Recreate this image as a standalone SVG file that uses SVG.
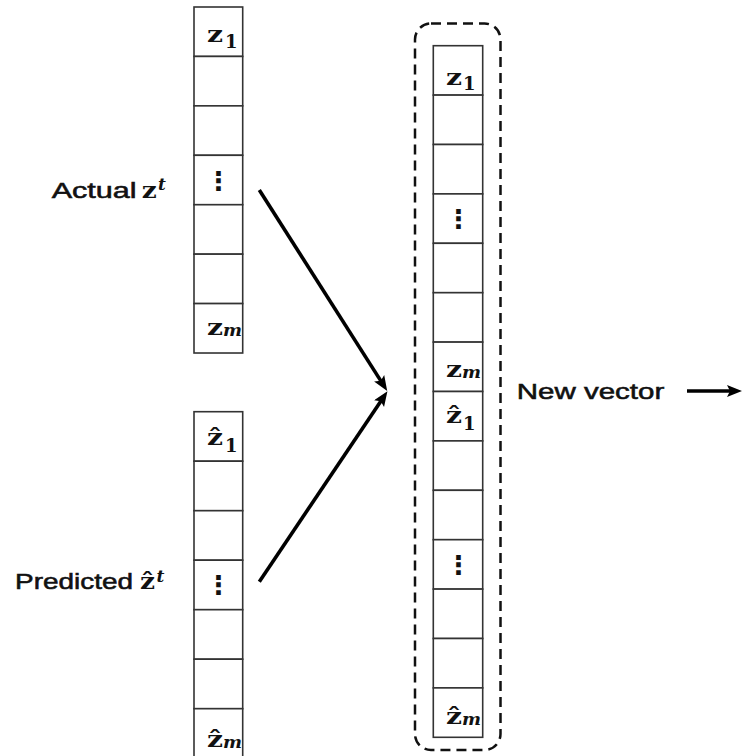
<svg xmlns="http://www.w3.org/2000/svg" width="743" height="756" viewBox="0 0 743 756">
  <style>
    .cell { fill: #ffffff; stroke: #333333; stroke-width: 1.6; }
    .label { font-family: "Liberation Sans", Arial, sans-serif; font-size: 22.5px; fill: #111111; stroke: #111111; stroke-width: 0.55; }
    .mz { font-family: "DejaVu Serif", "Liberation Serif", serif; font-weight: bold; font-size: 23px; fill: #111111; }
    .sub1 { font-family: "DejaVu Serif", "Liberation Serif", serif; font-weight: bold; font-size: 18px; fill: #111111; }
    .subm { font-family: "DejaVu Serif", "Liberation Serif", serif; font-weight: bold; font-style: italic; font-size: 17px; fill: #111111; }
    .sup { font-family: "DejaVu Serif", "Liberation Serif", serif; font-weight: bold; font-style: italic; font-size: 17px; fill: #111111; }
    .dots { font-family: "DejaVu Sans", sans-serif; font-weight: bold; font-size: 26px; fill: #111111; text-anchor: middle; }
    .conn { stroke: #000000; stroke-width: 3.6; fill: none; }
    .group-box { fill: none; stroke: #111111; stroke-width: 2.5; stroke-dasharray: 10 6; }
  </style>
  <defs>
    <marker id="head" markerUnits="userSpaceOnUse" markerWidth="16" markerHeight="14" refX="4" refY="6" orient="auto">
      <path d="M0,0 L15,6 L0,12 L3,6 Z" fill="#000000"/>
    </marker>
  </defs>

  <rect width="743" height="756" fill="#ffffff"/>

  <!-- actual vector z^t -->
  <g id="actual-vector">
    <rect class="cell" x="194" y="7" width="48.7" height="49.43"/>
    <rect class="cell" x="194" y="56.43" width="48.7" height="49.43"/>
    <rect class="cell" x="194" y="105.86" width="48.7" height="49.43"/>
    <rect class="cell" x="194" y="155.29" width="48.7" height="49.43"/>
    <rect class="cell" x="194" y="204.72" width="48.7" height="49.43"/>
    <rect class="cell" x="194" y="254.15" width="48.7" height="49.43"/>
    <rect class="cell" x="194" y="303.58" width="48.7" height="49.43"/>
    <text class="mz" x="207" y="41.7" textLength="16" lengthAdjust="spacingAndGlyphs">z</text>
    <text class="sub1" x="225" y="48">1</text>
    <text class="dots" x="218.3" y="190">⋮</text>
    <text class="mz" x="207" y="335" textLength="16" lengthAdjust="spacingAndGlyphs">z</text>
    <text class="subm" x="223" y="336" textLength="19" lengthAdjust="spacingAndGlyphs">m</text>
  </g>

  <!-- predicted vector ẑ^t -->
  <g id="predicted-vector">
    <rect class="cell" x="194" y="411.7" width="48.7" height="49.5"/>
    <rect class="cell" x="194" y="461.2" width="48.7" height="49.5"/>
    <rect class="cell" x="194" y="510.7" width="48.7" height="49.5"/>
    <rect class="cell" x="194" y="560.2" width="48.7" height="49.5"/>
    <rect class="cell" x="194" y="609.7" width="48.7" height="49.5"/>
    <rect class="cell" x="194" y="659.2" width="48.7" height="49.5"/>
    <rect class="cell" x="194" y="708.7" width="48.7" height="49.5"/>
    <text class="mz" x="207" y="445" textLength="16" lengthAdjust="spacingAndGlyphs">ẑ</text>
    <text class="sub1" x="225" y="451.5">1</text>
    <text class="dots" x="218.3" y="594">⋮</text>
    <text class="mz" x="207" y="746.5" textLength="16" lengthAdjust="spacingAndGlyphs">ẑ</text>
    <text class="subm" x="223" y="747.5" textLength="19" lengthAdjust="spacingAndGlyphs">m</text>
  </g>

  <!-- concatenated vector -->
  <g id="new-vector">
    <rect class="group-box" x="415" y="23.5" width="85.5" height="726.5" rx="16" ry="16"/>
    <rect class="cell" x="433.3" y="45.7" width="49.4" height="49.4"/>
    <rect class="cell" x="433.3" y="95.1" width="49.4" height="49.4"/>
    <rect class="cell" x="433.3" y="144.5" width="49.4" height="49.4"/>
    <rect class="cell" x="433.3" y="193.9" width="49.4" height="49.4"/>
    <rect class="cell" x="433.3" y="243.3" width="49.4" height="49.4"/>
    <rect class="cell" x="433.3" y="292.7" width="49.4" height="49.4"/>
    <rect class="cell" x="433.3" y="342.1" width="49.4" height="49.4"/>
    <rect class="cell" x="433.3" y="391.5" width="49.4" height="49.4"/>
    <rect class="cell" x="433.3" y="440.9" width="49.4" height="49.4"/>
    <rect class="cell" x="433.3" y="490.3" width="49.4" height="49.4"/>
    <rect class="cell" x="433.3" y="539.7" width="49.4" height="49.4"/>
    <rect class="cell" x="433.3" y="589.1" width="49.4" height="49.4"/>
    <rect class="cell" x="433.3" y="638.5" width="49.4" height="49.4"/>
    <rect class="cell" x="433.3" y="687.9" width="49.4" height="49.4"/>
    <text class="mz" x="446" y="84.5" textLength="16" lengthAdjust="spacingAndGlyphs">z</text>
    <text class="sub1" x="463" y="90">1</text>
    <text class="dots" x="458.3" y="228">⋮</text>
    <text class="mz" x="446" y="377" textLength="16" lengthAdjust="spacingAndGlyphs">z</text>
    <text class="subm" x="462" y="378" textLength="19" lengthAdjust="spacingAndGlyphs">m</text>
    <text class="mz" x="446" y="423.3" textLength="16" lengthAdjust="spacingAndGlyphs">ẑ</text>
    <text class="sub1" x="463" y="430">1</text>
    <text class="dots" x="458.3" y="574">⋮</text>
    <text class="mz" x="446" y="724" textLength="16" lengthAdjust="spacingAndGlyphs">ẑ</text>
    <text class="subm" x="462" y="725" textLength="19" lengthAdjust="spacingAndGlyphs">m</text>
  </g>

  <!-- side labels -->
  <g id="label-actual">
    <text class="label" x="51.7" y="198.3" textLength="85" lengthAdjust="spacingAndGlyphs">Actual</text>
    <text class="mz" x="141.7" y="198.3" textLength="15" lengthAdjust="spacingAndGlyphs">z</text>
    <text class="sup" x="158" y="190">t</text>
  </g>
  <g id="label-predicted">
    <text class="label" x="15" y="589.3" textLength="118" lengthAdjust="spacingAndGlyphs">Predicted</text>
    <text class="mz" x="140" y="589.3" textLength="15" lengthAdjust="spacingAndGlyphs">ẑ</text>
    <text class="sup" x="156.5" y="581.5">t</text>
  </g>
  <g id="label-new">
    <text class="label" x="516.7" y="399.3" textLength="147.6" lengthAdjust="spacingAndGlyphs">New vector</text>
  </g>

  <!-- connectors -->
  <g id="connectors">
    <line class="conn" x1="259.3" y1="190" x2="381.3" y2="381.6" marker-end="url(#head)"/>
    <line class="conn" x1="259.3" y1="581.7" x2="381.3" y2="400.4" marker-end="url(#head)"/>
    <line class="conn" x1="687" y1="391" x2="731" y2="391" stroke-width="3" marker-end="url(#head)"/>
  </g>
</svg>
